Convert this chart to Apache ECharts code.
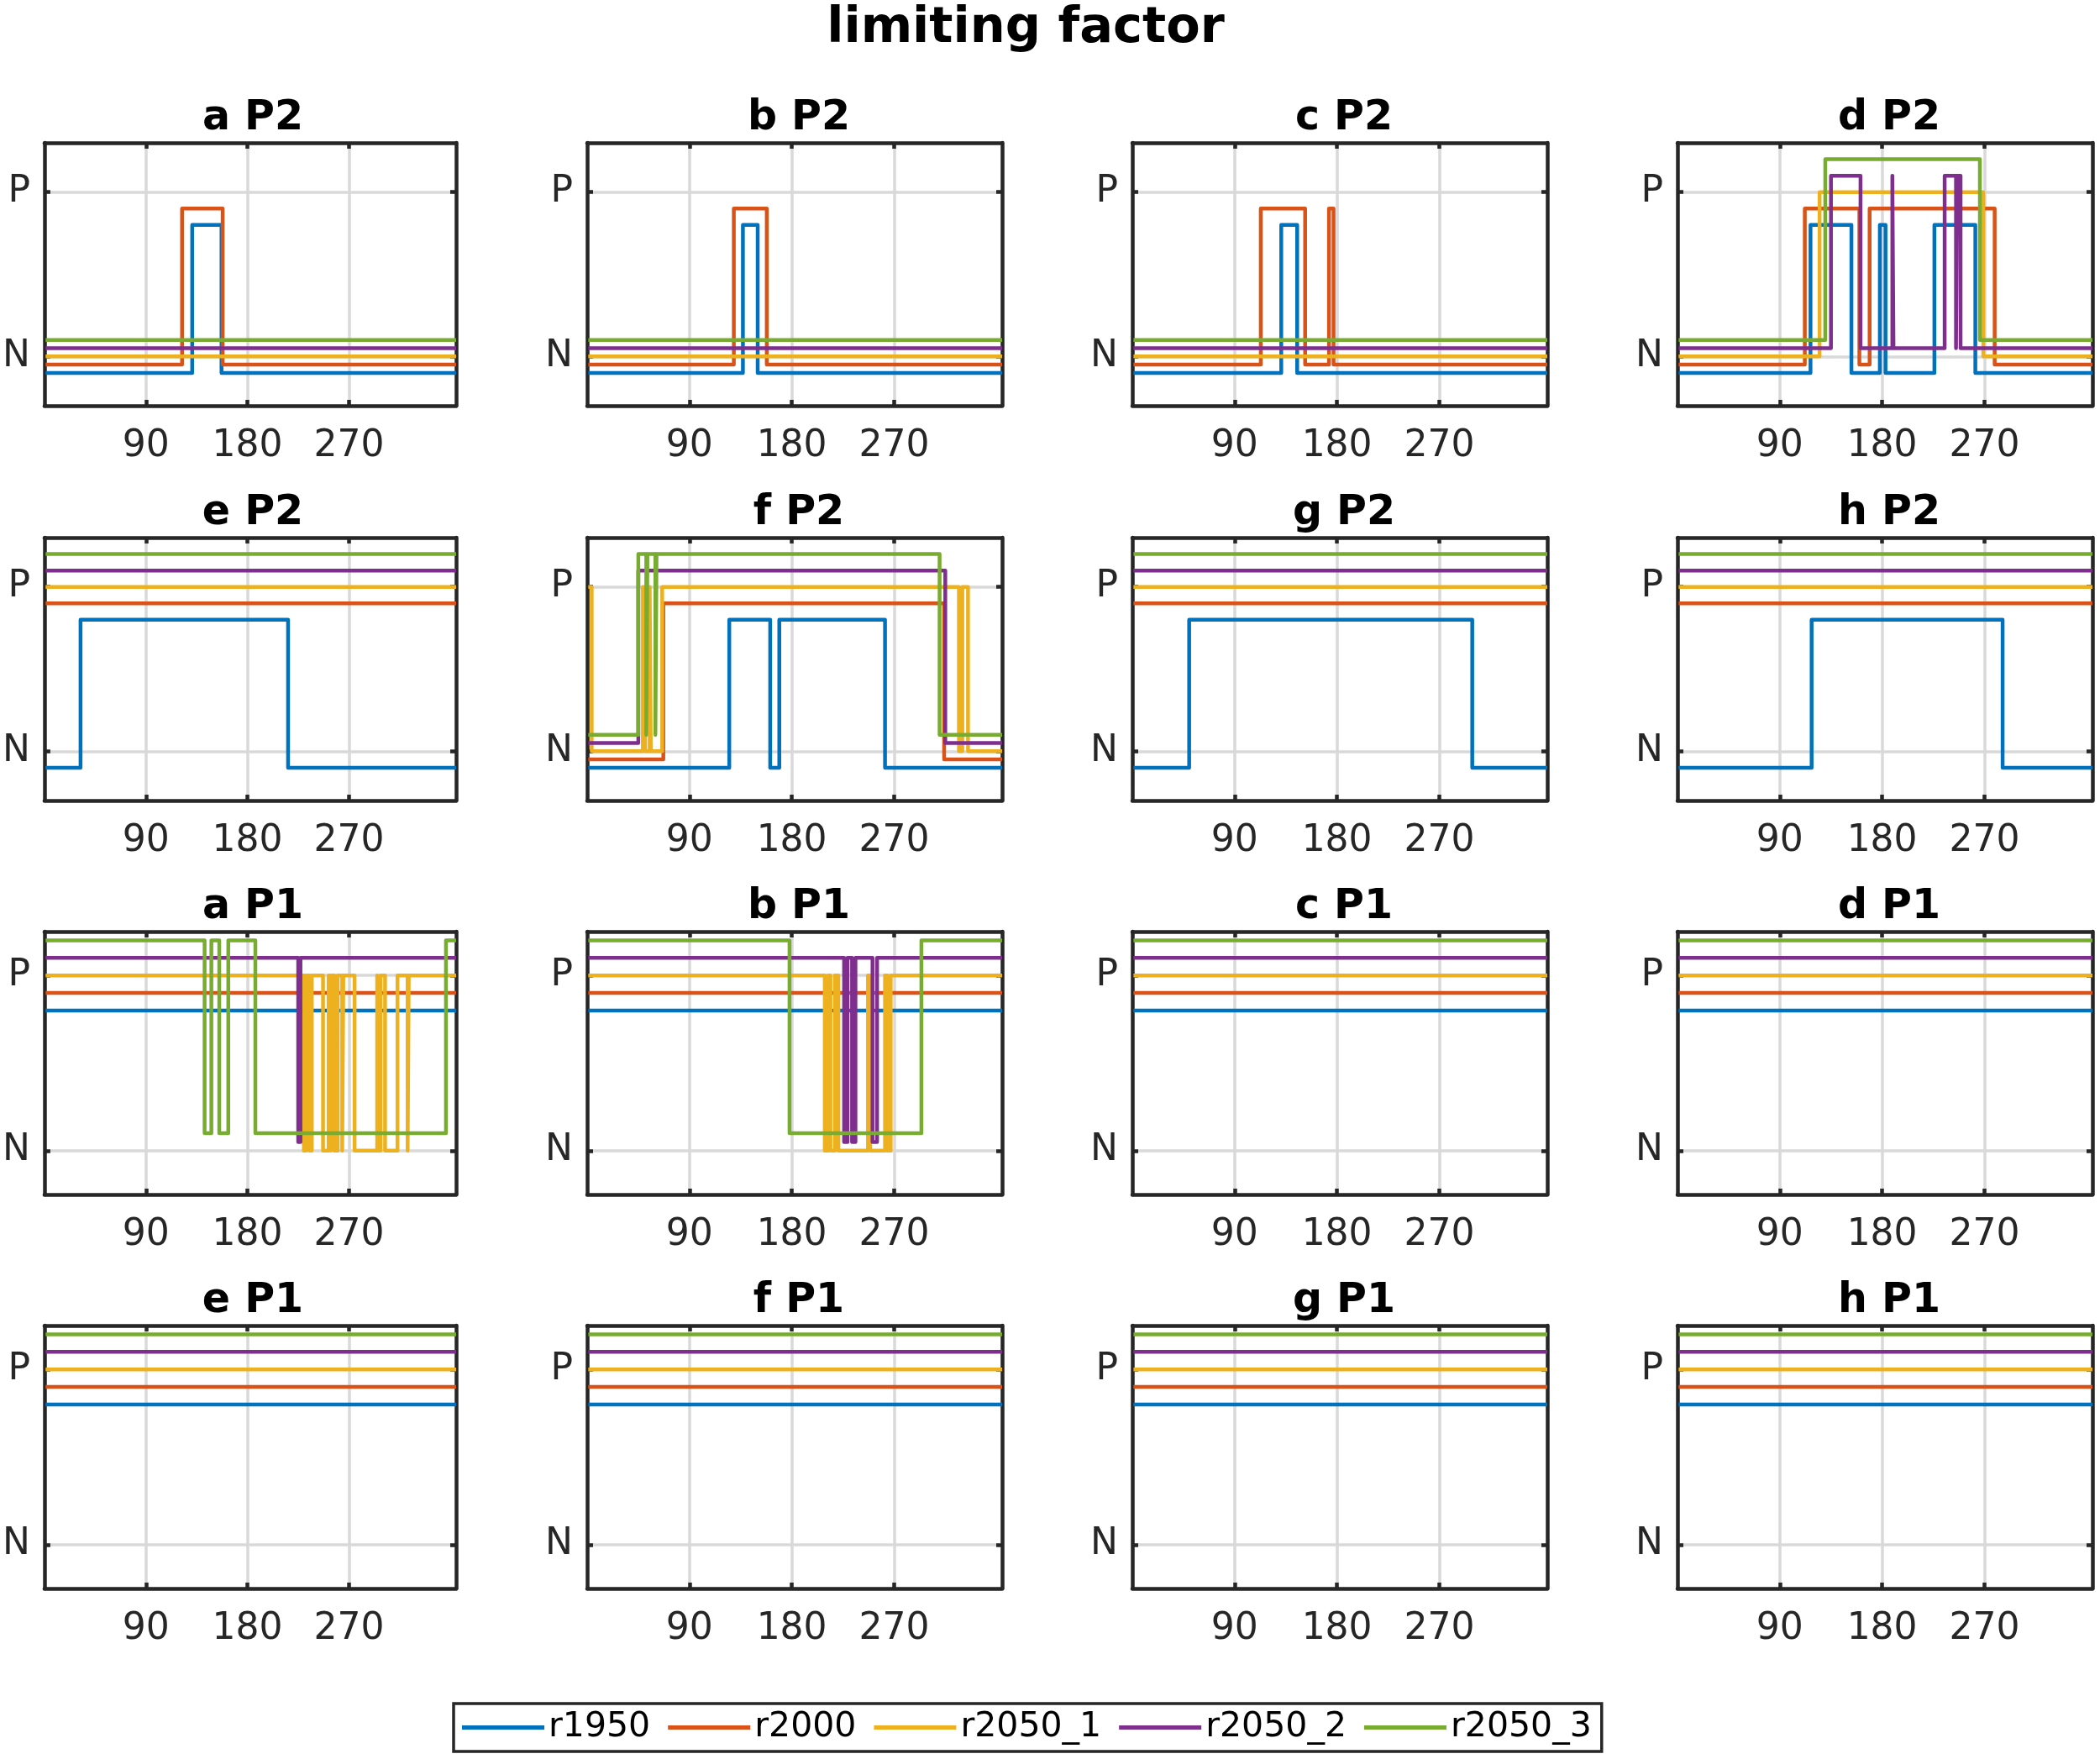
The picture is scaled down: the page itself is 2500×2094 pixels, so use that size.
<!DOCTYPE html>
<html>
<head>
<meta charset="utf-8">
<script src="https://cdn.jsdelivr.net/npm/echarts@6/dist/echarts.min.js"></script>
<style>
html,body{margin:0;padding:0;background:#fff;}
#chart{width:2500px;height:2094px;}
</style>
</head>
<body>
<div id="chart"></div>
<script>
// ---------------- DATA ----------------
const figureTitle = 'limiting factor';
const seriesNames = ['r1950', 'r2000', 'r2050_1', 'r2050_2', 'r2050_3'];
// vertical scale factor each series was plotted with (keeps lines apart)
const seriesScale = [0.9, 0.95, 1.0, 1.05, 1.1];
const xTickValues = [90, 180, 270];
const yTickValues = [1, 2];
const yTickLabels = ['N', 'P'];
const dayFirst = 1, dayLast = 365;
const panelTitles = ['a P2', 'b P2', 'c P2', 'd P2', 'e P2', 'f P2', 'g P2', 'h P2',
                     'a P1', 'b P1', 'c P1', 'd P1', 'e P1', 'f P1', 'g P1', 'h P1'];
// each series: [startLevel, switchDay, newLevel, switchDay, newLevel, ...]
const a_P2 = [['N',131,'P',157,'N'], ['N',122,'P',158,'N'], ['N'], ['N'], ['N']];
const b_P2 = [['N',137,'P',150,'N'], ['N',129,'P',158,'N'], ['N'], ['N'], ['N']];
const c_P2 = [['N',131,'P',145,'N'], ['N',113,'P',152,'N',173,'P',177,'N'], ['N'], ['N'], ['N']];
const d_P2 = [['N',117,'P',153,'N',178,'P',183,'N',226,'P',262,'N'],
              ['N',112,'P',160,'N',169,'P',279,'N'],
              ['N',125,'P',269,'N'],
              ['N',135,'P',161,'N',189,'P',190,'N',235,'P',245,'N',246,'P',249,'N'],
              ['N',130,'P',266,'N']];
const e_P2 = [['N',32,'P',216,'N'], ['P'], ['P'], ['P'], ['P']];
const f_P2 = [['N',125,'P',161,'N',169,'P',262,'N'],
              ['N',67,'P',314,'N'],
              ['P',4,'N',49,'P',51,'N',55,'P',56,'N',66,'P',327,'N',330,'P',335,'N'],
              ['N',45,'P',315,'N'],
              ['N',45,'P',52,'N',53,'P',60,'N',61,'P',310,'N']];
const g_P2 = [['N',50,'P',299,'N'], ['P'], ['P'], ['P'], ['P']];
const h_P2 = [['N',118,'P',286,'N'], ['P'], ['P'], ['P'], ['P']];
const a_P1 = [['P'], ['P'],
              ['P',230,'N',232,'P',235,'N',237,'P',247,'N',252,'P',254,'N',255,'P',257,'N',260,'P',264,'N',265,'P',275,'N',295,'P',296,'N',298,'P',302,'N',313,'P',322,'N',323,'P'],
              ['P',225,'N',227,'P'],
              ['P',142,'N',148,'P',155,'N',163,'P',187,'N',356,'P']];
const b_P1 = [['P'], ['P'],
              ['P',209,'N',212,'P',214,'N',218,'P',221,'N',247,'P',249,'N',262,'P',264,'N',267,'P'],
              ['P',226,'N',229,'P',233,'N',236,'P',251,'N',255,'P'],
              ['P',178,'N',294,'P']];
const c_P1 = [['P'], ['P'], ['P'], ['P'], ['P']];
const d_P1 = [['P'], ['P'], ['P'], ['P'], ['P']];
const e_P1 = [['P'], ['P'], ['P'], ['P'], ['P']];
const f_P1 = [['P'], ['P'], ['P'], ['P'], ['P']];
const g_P1 = [['P'], ['P'], ['P'], ['P'], ['P']];
const h_P1 = [['P'], ['P'], ['P'], ['P'], ['P']];
const panelData = [a_P2, b_P2, c_P2, d_P2, e_P2, f_P2, g_P2, h_P2,
                   a_P1, b_P1, c_P1, d_P1, e_P1, f_P1, g_P1, h_P1];
const levelValue = {N: 1, P: 2};

// ---------------- STYLE / LAYOUT ----------------
const colors = ['#0072BD', '#D95319', '#EDB120', '#7E2F8E', '#77AC30'];
const colLeft = [49, 699, 1348, 1997];
const boxW = 494;
const rowTop = [170, 640, 1109, 1578];
const boxH = 313;
const rowYMin = [0.7, 0.7, 0.75, 0.75];
const rowYMax = [2.3, 2.3, 2.25, 2.25];
const FONT = 'DejaVu Sans';
const axisColor = '#262626';
const gridColor = '#d9d9d9';

function buildLine(seq, scale) {
  const pts = [];
  let level = levelValue[seq[0]];
  pts.push([dayFirst, level * scale]);
  for (let k = 1; k < seq.length; k += 2) {
    const d = seq[k];
    const next = levelValue[seq[k + 1]];
    pts.push([d, level * scale]);
    pts.push([d, next * scale]);
    level = next;
  }
  pts.push([dayLast, level * scale]);
  return pts;
}

const grids = [], xAxes = [], yAxes = [], series = [], titles = [];
titles.push({
  text: figureTitle, left: 1216, top: 0, textAlign: 'center',
  textStyle: {fontFamily: FONT, fontWeight: 'bold', fontSize: 59, color: '#000'}
});

panelData.forEach((panel, i) => {
  const r = Math.floor(i / 4), c = i % 4;
  grids.push({left: colLeft[c], top: rowTop[r], width: boxW, height: boxH, containLabel: false});
  titles.push({
    text: panelTitles[i], left: colLeft[c] + boxW / 2, top: rowTop[r] - 58, textAlign: 'center',
    textStyle: {fontFamily: FONT, fontWeight: 'bold', fontSize: 49, color: '#000'}
  });
  const lineStyle = {color: axisColor, width: 4.5};
  // bottom x axis
  xAxes.push({
    type: 'value', gridIndex: i, position: 'bottom', min: 0, max: dayLast,
    axisLine: {show: true, onZero: false, lineStyle},
    axisTick: {show: true, inside: true, length: 7, customValues: xTickValues, lineStyle},
    axisLabel: {show: true, customValues: xTickValues, margin: 27, fontFamily: FONT, fontSize: 44, color: axisColor},
    splitLine: {show: true, lineStyle: {color: gridColor, width: 3.5}}
  });
  // top x axis (box + ticks)
  xAxes.push({
    type: 'value', gridIndex: i, position: 'top', min: 0, max: dayLast,
    axisLine: {show: true, onZero: false, lineStyle},
    axisTick: {show: true, inside: true, length: 7, customValues: xTickValues, lineStyle},
    axisLabel: {show: false},
    splitLine: {show: false}
  });
  yAxes.push({
    type: 'value', gridIndex: i, position: 'left', min: rowYMin[r], max: rowYMax[r],
    axisLine: {show: true, onZero: false, lineStyle},
    axisTick: {show: true, inside: true, length: 7, customValues: yTickValues, lineStyle},
    axisLabel: {show: true, customValues: yTickValues, margin: 17, fontFamily: FONT, fontSize: 44, color: axisColor,
      padding: [11, 0, 0, 0],
      formatter: v => yTickLabels[yTickValues.indexOf(Math.round(v))] || ''},
    splitLine: {show: true, lineStyle: {color: gridColor, width: 3.5}}
  });
  yAxes.push({
    type: 'value', gridIndex: i, position: 'right', min: rowYMin[r], max: rowYMax[r],
    axisLine: {show: true, onZero: false, lineStyle},
    axisTick: {show: true, inside: true, length: 7, customValues: yTickValues, lineStyle},
    axisLabel: {show: false},
    splitLine: {show: false}
  });
  panel.forEach((seq, s) => {
    series.push({
      name: seriesNames[s], type: 'line', xAxisIndex: 2 * i, yAxisIndex: 2 * i,
      data: buildLine(seq, seriesScale[s]),
      showSymbol: false, symbol: 'none', z: 3 + s,
      lineStyle: {color: colors[s], width: 4.5, join: 'round', cap: 'butt'},
      itemStyle: {color: colors[s]},
      emphasis: {disabled: true}, silent: true
    });
  });
});

const chart = echarts.init(document.getElementById('chart'), null, {renderer: 'canvas'});
chart.setOption({
  backgroundColor: '#fff',
  animation: false,
  title: titles,
  grid: grids,
  xAxis: xAxes,
  yAxis: yAxes,
  legend: {
    data: seriesNames, left: 540, top: 2028, orient: 'horizontal',
    padding: [8, 12, 8, 10], itemGap: 21, itemWidth: 98, itemHeight: 5, icon: 'rect',
    borderColor: axisColor, borderWidth: 3.5, backgroundColor: '#fff',
    textStyle: {fontFamily: FONT, fontSize: 41, color: '#000'},
    selectedMode: false
  },
  series: series
});
</script>
</body>
</html>
